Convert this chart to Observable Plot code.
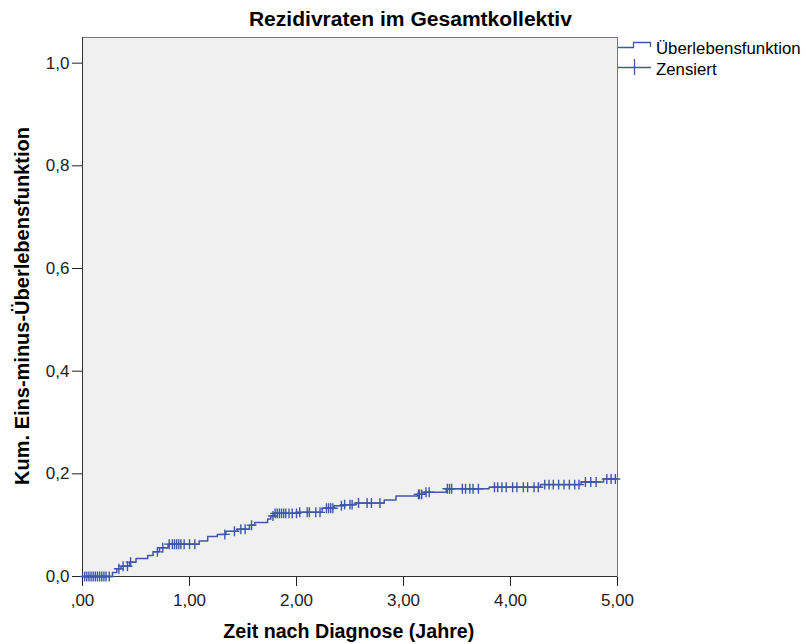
<!DOCTYPE html>
<html>
<head>
<meta charset="utf-8">
<script src="https://cdn.jsdelivr.net/npm/d3@7"></script>
<script src="https://cdn.jsdelivr.net/npm/@observablehq/plot@0.6"></script>
<style>
  html, body { margin: 0; padding: 0; background: #fff; }
  #wrap { position: relative; width: 806px; height: 644px; font-family: "Liberation Sans", Arial, sans-serif; color: #000; }
  .lbl { position: absolute; white-space: nowrap; line-height: 1; }
</style>
</head>
<body>
<div id="wrap"></div>
<script>
// ---- data ----
const title = "Rezidivraten im Gesamtkollektiv";
const xLabel = "Zeit nach Diagnose (Jahre)";
const yLabel = "Kum. Eins-minus-Überlebensfunktion";
const legendLabels = ["Überlebensfunktion", "Zensiert"];

const xTicks = [0, 1, 2, 3, 4, 5];
const xTickLabels = [",00", "1,00", "2,00", "3,00", "4,00", "5,00"];
const yTicks = [0, 0.2, 0.4, 0.6, 0.8, 1.0];
const yTickLabels = ["0,0", "0,2", "0,4", "0,6", "0,8", "1,0"];

// step function: times where cumulative incidence jumps, and value after jump
const stepTimes  = [0, 0.28, 0.32, 0.36, 0.44, 0.50, 0.61, 0.66, 0.72, 0.80, 1.09, 1.17, 1.26, 1.34, 1.45, 1.56, 1.61, 1.73, 1.76, 1.79, 2.01, 2.24, 2.35, 2.45, 2.55, 2.82, 2.93, 3.13, 3.20, 3.40, 3.80, 4.28, 4.66, 4.87, 5.00];
const stepValues = [0, 0.008, 0.015, 0.020, 0.028, 0.035, 0.041, 0.048, 0.056, 0.063, 0.069, 0.078, 0.082, 0.088, 0.092, 0.100, 0.105, 0.112, 0.118, 0.123, 0.125, 0.133, 0.138, 0.140, 0.143, 0.149, 0.157, 0.160, 0.164, 0.171, 0.174, 0.179, 0.184, 0.190, 0.190];

// censored observation times
const censorTimes = [
  0.02, 0.04, 0.06, 0.08, 0.10, 0.12, 0.14, 0.16, 0.18, 0.20, 0.22, 0.25,
  0.34, 0.38, 0.42, 0.45,
  0.70, 0.75, 0.81, 0.84, 0.86, 0.88, 0.90, 0.92, 0.95, 1.00, 1.05,
  1.33, 1.42, 1.48, 1.52, 1.58,
  1.78, 1.80, 1.82, 1.84, 1.86, 1.88, 1.90, 1.93, 1.96, 2.00, 2.03, 2.10, 2.12, 2.18, 2.22, 2.28, 2.30, 2.32, 2.34,
  2.42, 2.45, 2.50, 2.52, 2.58, 2.66, 2.70, 2.78,
  3.14, 3.15, 3.17, 3.21, 3.24,
  3.41, 3.43, 3.45, 3.55, 3.58, 3.62, 3.65, 3.70,
  3.85, 3.88, 3.92, 3.96, 4.02, 4.06, 4.12, 4.16, 4.22, 4.26,
  4.32, 4.36, 4.40, 4.45, 4.50, 4.55, 4.60, 4.64,
  4.70, 4.75, 4.80, 4.90, 4.94, 4.98
];

const blue = "#3f57a8";

// ---- build tables ----
const steps = stepTimes.map((t, i) => ({t, v: stepValues[i]}));
function valueAt(t) {
  let v = 0;
  for (let i = 0; i < stepTimes.length; i++) if (stepTimes[i] <= t) v = stepValues[i];
  return v;
}
const censored = censorTimes.map(t => ({t, v: valueAt(t)}));

const chart = Plot.plot({
  width: 806,
  height: 644,
  marginLeft: 82,
  marginRight: 189,
  marginTop: 37,
  marginBottom: 68,
  style: {fontFamily: "Liberation Sans, Arial, sans-serif", fontSize: "17px", color: "#222", background: "transparent"},
  x: {domain: [0, 5], ticks: xTicks, tickFormat: d => xTickLabels[xTicks.indexOf(d)], tickSize: 10, tickPadding: 7, label: null},
  y: {domain: [0, 1.05], ticks: yTicks, tickFormat: d => yTickLabels[yTicks.findIndex(v => Math.abs(v - d) < 1e-9)], tickSize: 10, tickPadding: 3, label: null},
  marks: [
    Plot.frame({fill: "#f0f0f0", stroke: "#777"}),
    Plot.ruleX([0], {stroke: "#333"}),
    Plot.ruleY([0], {stroke: "#333"}),
    Plot.line(steps, {x: "t", y: "v", curve: "step-after", stroke: blue, strokeWidth: 1.5}),
    Plot.dot(censored, {x: "t", y: "v", symbol: "plus", r: 3.3, stroke: blue, strokeWidth: 1.4})
  ]
});

const wrap = document.getElementById("wrap");
chart.style.position = "absolute";
chart.style.left = "0px";
chart.style.top = "0px";
wrap.appendChild(chart);

// text label, centred on (cx, cy), stretched to the width measured in the reference
function addLabel(text, cx, cy, size, bold, targetWidth, rotate) {
  const d = document.createElement("div");
  d.className = "lbl";
  d.textContent = text;
  d.style.fontSize = size + "px";
  d.style.fontWeight = bold ? "bold" : "normal";
  wrap.appendChild(d);
  const r = d.getBoundingClientRect();
  const s = targetWidth ? targetWidth / r.width : 1;
  d.style.left = (cx - r.width / 2) + "px";
  d.style.top = (cy - r.height / 2) + "px";
  d.style.transform = (rotate ? "rotate(-90deg) " : "") + `scaleX(${s})`;
  return d;
}
addLabel(title, 410, 19, 20, true, 323);
addLabel(xLabel, 349, 631, 20, true, 251);
addLabel(yLabel, 22, 306, 20, true, null, true);

// legend
const ns = "http://www.w3.org/2000/svg";
const lg = document.createElementNS(ns, "svg");
lg.setAttribute("width", "40");
lg.setAttribute("height", "50");
lg.style.position = "absolute";
lg.style.left = "618px";
lg.style.top = "36px";
const p1 = document.createElementNS(ns, "path");
p1.setAttribute("d", "M0,11.5 H15.5 V6.5 H32.5 V11");
p1.setAttribute("fill", "none");
p1.setAttribute("stroke", blue);
p1.setAttribute("stroke-width", "1.3");
lg.appendChild(p1);
const p2 = document.createElementNS(ns, "path");
p2.setAttribute("d", "M0,31.5 H33 M16.5,23 V39");
p2.setAttribute("fill", "none");
p2.setAttribute("stroke", blue);
p2.setAttribute("stroke-width", "1.3");
lg.appendChild(p2);
wrap.appendChild(lg);
const l1 = document.createElement("div");
l1.className = "lbl"; l1.textContent = legendLabels[0];
Object.assign(l1.style, {left: "656px", top: "41px", fontSize: "16.8px"});
wrap.appendChild(l1);
const l2 = document.createElement("div");
l2.className = "lbl"; l2.textContent = legendLabels[1];
Object.assign(l2.style, {left: "656px", top: "62px", fontSize: "16.8px"});
wrap.appendChild(l2);
</script>
</body>
</html>
